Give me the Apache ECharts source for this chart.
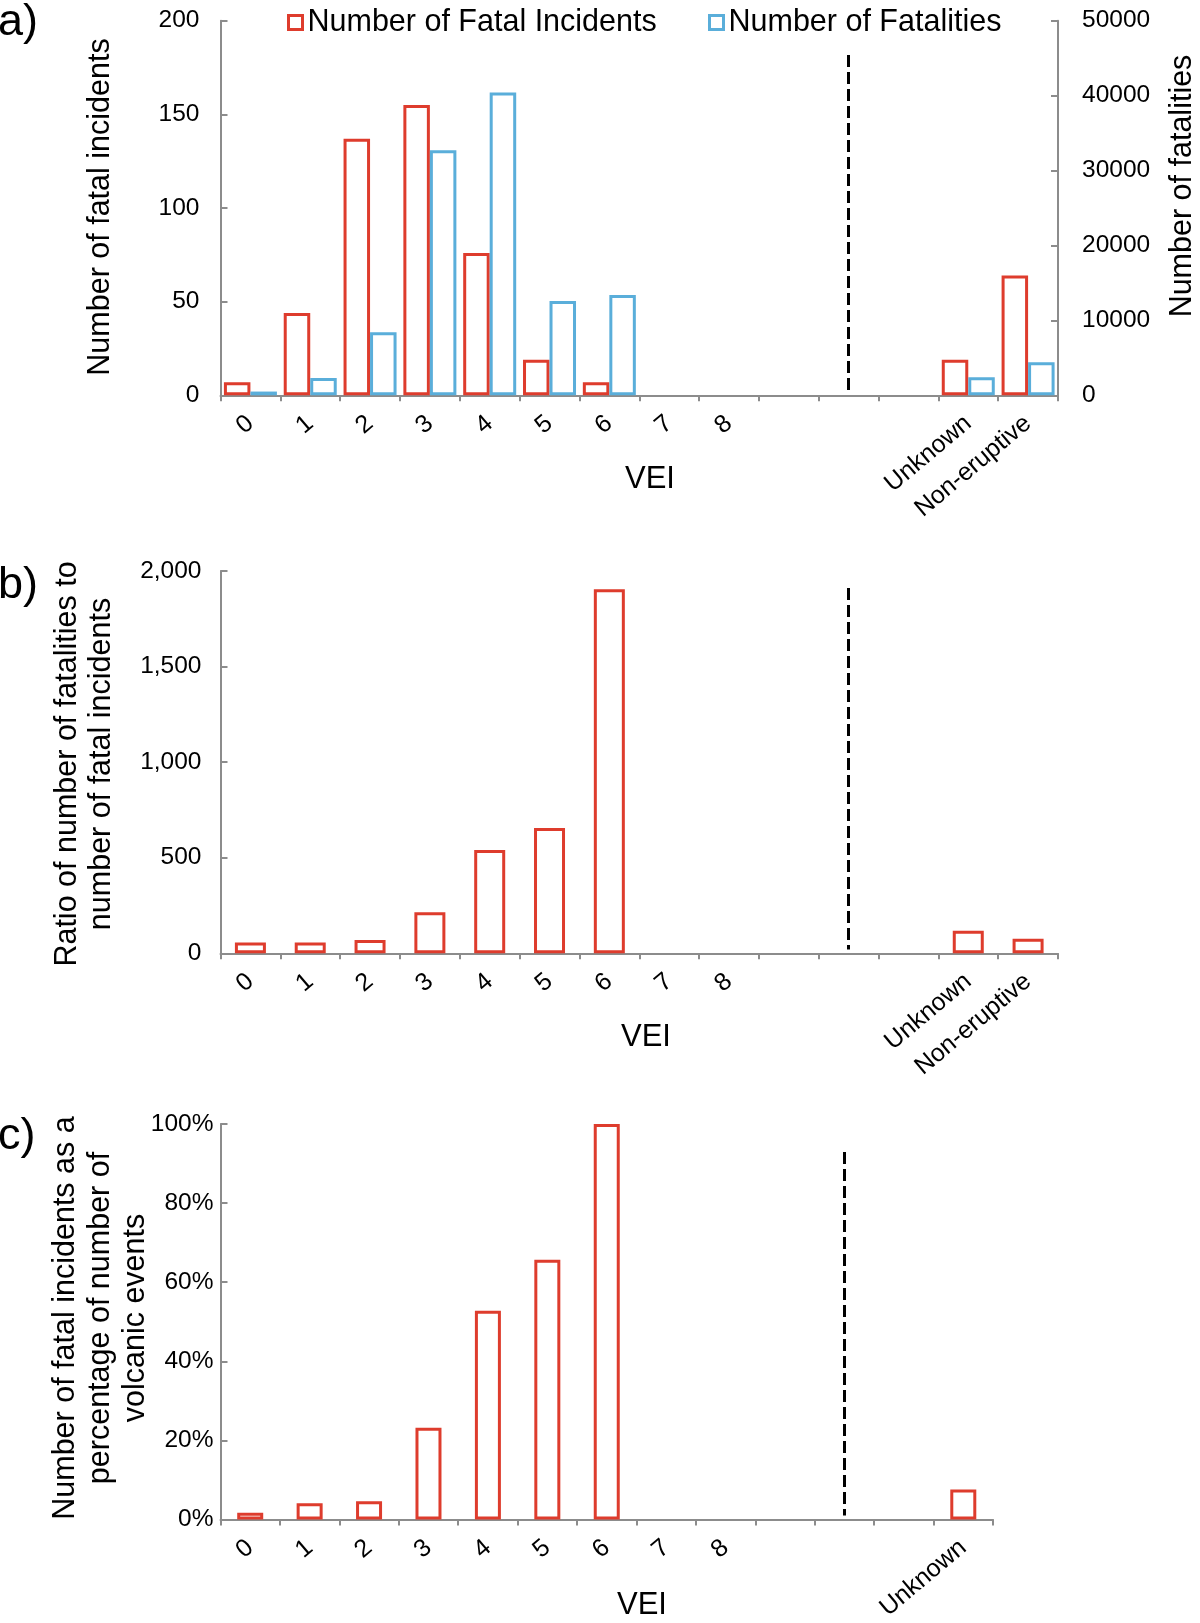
<!DOCTYPE html>
<html>
<head>
<meta charset="utf-8">
<script src="https://cdn.jsdelivr.net/npm/echarts@6/dist/echarts.min.js"></script>
<style>
  html, body { margin: 0; padding: 0; background: #fff; }
  #chart { width: 1200px; height: 1623px; }
</style>
</head>
<body>
<div id="chart"></div>
<script>
// ---------- data ----------
const categoriesAB = ['0', '1', '2', '3', '4', '5', '6', '7', '8', '', '', '', 'Unknown', 'Non-eruptive'];
const categoriesC = ['0', '1', '2', '3', '4', '5', '6', '7', '8', '', '', '', 'Unknown'];

// panel a
const fatalIncidents = [7, 44, 137, 155, 76, 19, 7, null, null, null, null, null, 19, 64];
const fatalities = [500, 2300, 8400, 32700, 40400, 12600, 13400, null, null, null, null, null, 2400, 4400];
// panel b
const ratioFatalitiesPerIncident = [57, 57, 69, 215, 540, 656, 1905, null, null, null, null, null, 118, 76];
// panel c (percent)
const pctIncidentsOfEvents = [1.7, 4.1, 4.6, 23.2, 52.8, 65.7, 100, null, null, null, null, null, 7.6];

// tick values
const ticksALeft = [0, 50, 100, 150, 200];
const ticksARight = [0, 10000, 20000, 30000, 40000, 50000];
const ticksB = [0, 500, 1000, 1500, 2000];
const ticksC = [0, 20, 40, 60, 80, 100];

const seriesNames = ['Number of Fatal Incidents', 'Number of Fatalities'];
const separatorIndex = 10; // dashed divider category

// ---------- style ----------
const RED = '#DE3C2D';
const BLUE = '#5AAEDA';
const AXIS = '#8c8c8c';
const FONT = '"Liberation Sans", Arial, Helvetica, sans-serif';
const TICK_FS = 24.5;
const XLAB_FS = 25;
const TITLE_FS = 30.5;

function rng(t) { return { min: t[0], max: t[t.length - 1], interval: t[1] - t[0] }; }

function xAxisCfg(grid, cats) {
  return {
    type: 'category', gridIndex: grid, data: cats,
    axisLine: { show: true, lineStyle: { color: AXIS, width: 2 } },
    axisTick: { show: true, inside: false, length: 6, interval: 0, lineStyle: { color: AXIS, width: 2 } },
    axisLabel: { interval: 0, rotate: 40, fontSize: XLAB_FS, fontFamily: FONT, color: '#000', margin: 25 },
    splitLine: { show: false }
  };
}
function yAxisCfg(grid, ticks, pos, margin, fmt) {
  const r = rng(ticks);
  return {
    type: 'value', gridIndex: grid, position: pos, min: r.min, max: r.max, interval: r.interval,
    axisLine: { show: true, lineStyle: { color: AXIS, width: 2 } },
    axisTick: { show: true, inside: true, length: 7, lineStyle: { color: AXIS, width: 2 } },
    axisLabel: { fontSize: TICK_FS, fontFamily: FONT, color: '#000', margin: margin, formatter: fmt },
    splitLine: { show: false }
  };
}
function sepLine(top, bottom) {
  return {
    silent: true, symbol: ['none', 'none'], label: { show: false }, animation: false,
    lineStyle: { color: '#000', width: 3, type: [12, 5] },
    data: [[{ coord: [separatorIndex, top] }, { coord: [separatorIndex, bottom] }]]
  };
}
function barStyle(c) { return { color: '#fff', borderColor: c, borderWidth: 3 }; }

const chart = echarts.init(document.getElementById('chart'), null, { renderer: 'canvas' });

const legendText = { fontSize: 30.5, fontFamily: FONT, color: '#000' };

const option = {
  animation: false,
  backgroundColor: '#fff',
  textStyle: { fontFamily: FONT },
  grid: [
    { left: 220.5, top: 20.7, width: 837.5, height: 374.6 },
    { left: 220.5, top: 571, width: 837.5, height: 382.3 },
    { left: 220.5, top: 1124, width: 772.5, height: 396 }
  ],
  legend: [
    { data: [{ name: seriesNames[0], icon: 'rect', itemStyle: barStyle(RED) }], left: 287, top: 7, padding: 0,
      itemWidth: 14, itemHeight: 14, itemStyle: { borderWidth: 3 }, selectedMode: false, textStyle: legendText },
    { data: [{ name: seriesNames[1], icon: 'rect', itemStyle: barStyle(BLUE) }], left: 708, top: 7, padding: 0,
      itemWidth: 14, itemHeight: 14, itemStyle: { borderWidth: 3 }, selectedMode: false, textStyle: legendText }
  ],
  xAxis: [xAxisCfg(0, categoriesAB), xAxisCfg(1, categoriesAB), xAxisCfg(2, categoriesC)],
  yAxis: [
    yAxisCfg(0, ticksALeft, 'left', 21),
    yAxisCfg(0, ticksARight, 'right', 24, v => String(v)),
    yAxisCfg(1, ticksB, 'left', 19, v => v.toLocaleString('en-US')),
    yAxisCfg(2, ticksC, 'left', 7, v => v + '%')
  ],
  series: [
    { name: seriesNames[0], type: 'bar', xAxisIndex: 0, yAxisIndex: 0, data: fatalIncidents,
      barWidth: 26.5, barGap: '0%', itemStyle: barStyle(RED) },
    { name: seriesNames[1], type: 'bar', xAxisIndex: 0, yAxisIndex: 1, data: fatalities,
      barWidth: 26.5, barGap: '0%', itemStyle: barStyle(BLUE) },
    { name: 'divider-a', type: 'line', xAxisIndex: 0, yAxisIndex: 0, data: [], silent: true,
      markLine: sepLine(181.7, 2.3) },
    { name: 'ratio', type: 'bar', xAxisIndex: 1, yAxisIndex: 2, data: ratioFatalitiesPerIncident,
      barWidth: 31, itemStyle: barStyle(RED), markLine: sepLine(1911, 20) },
    { name: 'pct', type: 'bar', xAxisIndex: 2, yAxisIndex: 3, data: pctIncidentsOfEvents,
      barWidth: 26, itemStyle: barStyle(RED), markLine: sepLine(92.9, 1.0) }
  ],
  graphic: [
    // panel letters
    { type: 'text', x: -2, y: 23, style: { text: 'a)', fontSize: 45, fontFamily: FONT, fill: '#000', align: 'left', verticalAlign: 'middle' } },
    { type: 'text', x: -2, y: 586, style: { text: 'b)', fontSize: 45, fontFamily: FONT, fill: '#000', align: 'left', verticalAlign: 'middle' } },
    { type: 'text', x: -2, y: 1137, style: { text: 'c)', fontSize: 45, fontFamily: FONT, fill: '#000', align: 'left', verticalAlign: 'middle' } },
    // y-axis titles
    { type: 'text', x: 101, y: 207, rotation: Math.PI / 2,
      style: { text: 'Number of fatal incidents', fontSize: TITLE_FS, fontFamily: FONT, fill: '#000', align: 'center', verticalAlign: 'middle' } },
    { type: 'text', x: 1183, y: 186, rotation: Math.PI / 2,
      style: { text: 'Number of fatalities', fontSize: TITLE_FS, fontFamily: FONT, fill: '#000', align: 'center', verticalAlign: 'middle' } },
    { type: 'text', x: 85, y: 764, rotation: Math.PI / 2,
      style: { text: 'Ratio of number of fatalities to\nnumber of fatal incidents', fontSize: TITLE_FS, lineHeight: 34, fontFamily: FONT, fill: '#000', align: 'center', verticalAlign: 'middle' } },
    { type: 'text', x: 101, y: 1318, rotation: Math.PI / 2,
      style: { text: 'Number of fatal incidents as a\npercentage of number of\nvolcanic events', fontSize: TITLE_FS, lineHeight: 35, fontFamily: FONT, fill: '#000', align: 'center', verticalAlign: 'middle' } },
    // x-axis titles
    { type: 'text', x: 650, y: 479, style: { text: 'VEI', fontSize: 31, fontFamily: FONT, fill: '#000', align: 'center', verticalAlign: 'middle' } },
    { type: 'text', x: 646, y: 1037, style: { text: 'VEI', fontSize: 31, fontFamily: FONT, fill: '#000', align: 'center', verticalAlign: 'middle' } },
    { type: 'text', x: 642, y: 1605, style: { text: 'VEI', fontSize: 31, fontFamily: FONT, fill: '#000', align: 'center', verticalAlign: 'middle' } }
  ]
};

chart.setOption(option);
</script>
</body>
</html>
